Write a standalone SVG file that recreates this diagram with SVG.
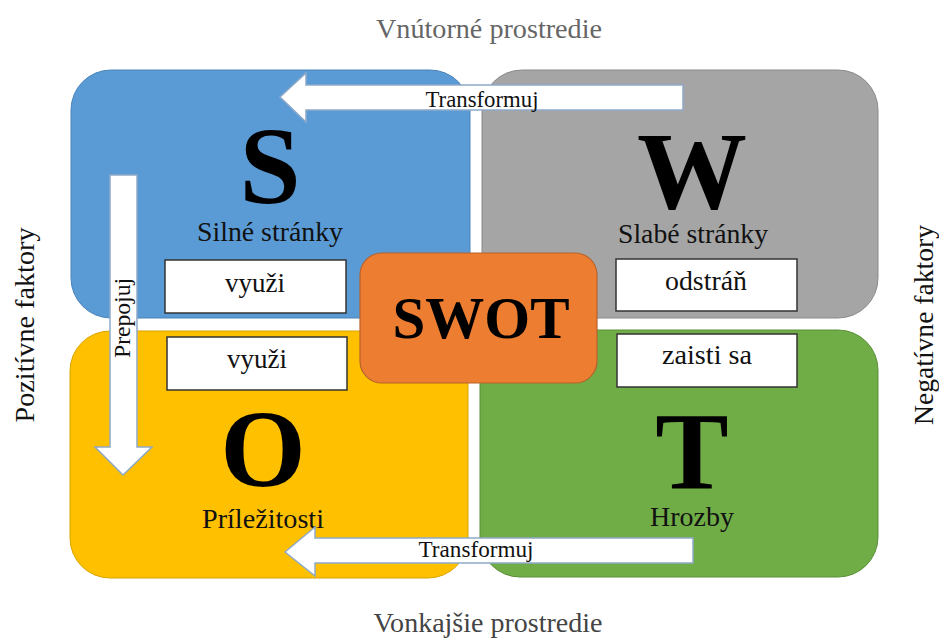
<svg xmlns="http://www.w3.org/2000/svg" width="939" height="639" viewBox="0 0 939 639">
<style>
text{font-family:"Liberation Serif","Times New Roman",serif;}
.big{font-family:"Liberation Serif","Times New Roman",serif;font-size:110px;font-weight:bold;fill:#000;text-anchor:middle;}
.lbl{font-family:"Liberation Serif","Times New Roman",serif;font-size:27px;fill:#111;text-anchor:middle;}
.act{fill:#fff;stroke:#333;stroke-width:1.5;}
.acttxt{font-family:"Liberation Serif","Times New Roman",serif;font-size:27px;fill:#111;text-anchor:middle;}
.arrow{fill:#fff;stroke:#8EA9C8;stroke-width:1.5;stroke-linejoin:miter;}
.arrtxt{font-family:"Liberation Serif","Times New Roman",serif;font-size:23px;fill:#111;text-anchor:middle;}
.side{font-family:"Liberation Serif","Times New Roman",serif;font-size:27.5px;text-anchor:middle;}
</style>
<rect width="939" height="639" fill="#fff"/>
<g id="S">
<rect x="71" y="70" width="399" height="248" rx="40" fill="#5B9BD5" stroke="#4A83B8" stroke-width="1"/>
<text class="big" x="270" y="203">S</text>
<text class="lbl" x="270" y="241" textLength="146" lengthAdjust="spacingAndGlyphs">Silné stránky</text>
</g>
<g id="W">
<rect x="482" y="70" width="396" height="248" rx="40" fill="#A5A5A5" stroke="#8A8A8A" stroke-width="1"/>
<text class="big" x="692" y="208">W</text>
<text class="lbl" x="693" y="243" textLength="150" lengthAdjust="spacingAndGlyphs">Slabé stránky</text>
</g>
<g id="O">
<rect x="70" y="331" width="398" height="247" rx="40" fill="#FFC000" stroke="#D9A300" stroke-width="1"/>
<text class="big" x="263" y="486">O</text>
<text class="lbl" x="263" y="528" textLength="122" lengthAdjust="spacingAndGlyphs">Príležitosti</text>
</g>
<g id="T">
<rect x="480" y="330" width="398" height="247" rx="40" fill="#70AD47" stroke="#5A8F38" stroke-width="1"/>
<text class="big" x="692" y="489">T</text>
<text class="lbl" x="692" y="526" textLength="84" lengthAdjust="spacingAndGlyphs">Hrozby</text>
</g>
<g id="connectors">
<path class="arrow" d="M280 97 L306 73 L306 85 L683 85 L683 110 L306 110 L306 122 Z"/>
<text class="arrtxt" x="482" y="107" textLength="113" lengthAdjust="spacingAndGlyphs">Transformuj</text>
<path class="arrow" d="M285 552 L315 527 L315 538 L693 538 L693 563 L315 563 L315 576 Z"/>
<text class="arrtxt" x="476" y="557" textLength="115" lengthAdjust="spacingAndGlyphs">Transformuj</text>
<path class="arrow" d="M110 175 L137 175 L137 447 L152 447 L123 475 L95 447 L110 447 Z"/>
<text class="arrtxt" transform="translate(130,318) rotate(-90)" x="0" y="0" textLength="80" lengthAdjust="spacingAndGlyphs">Prepojuj</text>
</g>
<g id="act-s-vyuzi">
<rect class="act" x="165" y="260" width="181" height="53"/>
<text class="acttxt" x="255" y="292" textLength="60" lengthAdjust="spacingAndGlyphs">využi</text>
</g>
<g id="act-w-odstran">
<rect class="act" x="616" y="259" width="181" height="52"/>
<text class="acttxt" x="706" y="290" textLength="82" lengthAdjust="spacingAndGlyphs">odstráň</text>
</g>
<g id="act-o-vyuzi">
<rect class="act" x="167" y="337" width="180" height="53"/>
<text class="acttxt" x="257" y="368" textLength="60" lengthAdjust="spacingAndGlyphs">využi</text>
</g>
<g id="act-t-zaisti">
<rect class="act" x="617" y="334" width="180" height="53"/>
<text class="acttxt" x="707" y="364" textLength="90" lengthAdjust="spacingAndGlyphs">zaisti sa</text>
</g>
<g id="SWOT">
<rect x="360" y="253" width="237" height="130" rx="22" fill="#ED7D31" stroke="#B8622A" stroke-width="1.2"/>
<text x="481" y="338" font-family="Liberation Serif, Times New Roman, serif" font-size="60" font-weight="bold" text-anchor="middle" fill="#000" textLength="177" lengthAdjust="spacingAndGlyphs">SWOT</text>
</g>
<g id="labels">
<text class="side" x="489" y="38" fill="#666" textLength="226" lengthAdjust="spacingAndGlyphs">Vnútorné prostredie</text>
<text class="side" x="488" y="632" fill="#444" textLength="229" lengthAdjust="spacingAndGlyphs">Vonkajšie prostredie</text>
<text class="side" transform="translate(34,325) rotate(-90)" fill="#111" textLength="195" lengthAdjust="spacingAndGlyphs">Pozitívne faktory</text>
<text class="side" transform="translate(933,325) rotate(-90)" fill="#111" textLength="200" lengthAdjust="spacingAndGlyphs">Negatívne faktory</text>
</g>
</svg>
